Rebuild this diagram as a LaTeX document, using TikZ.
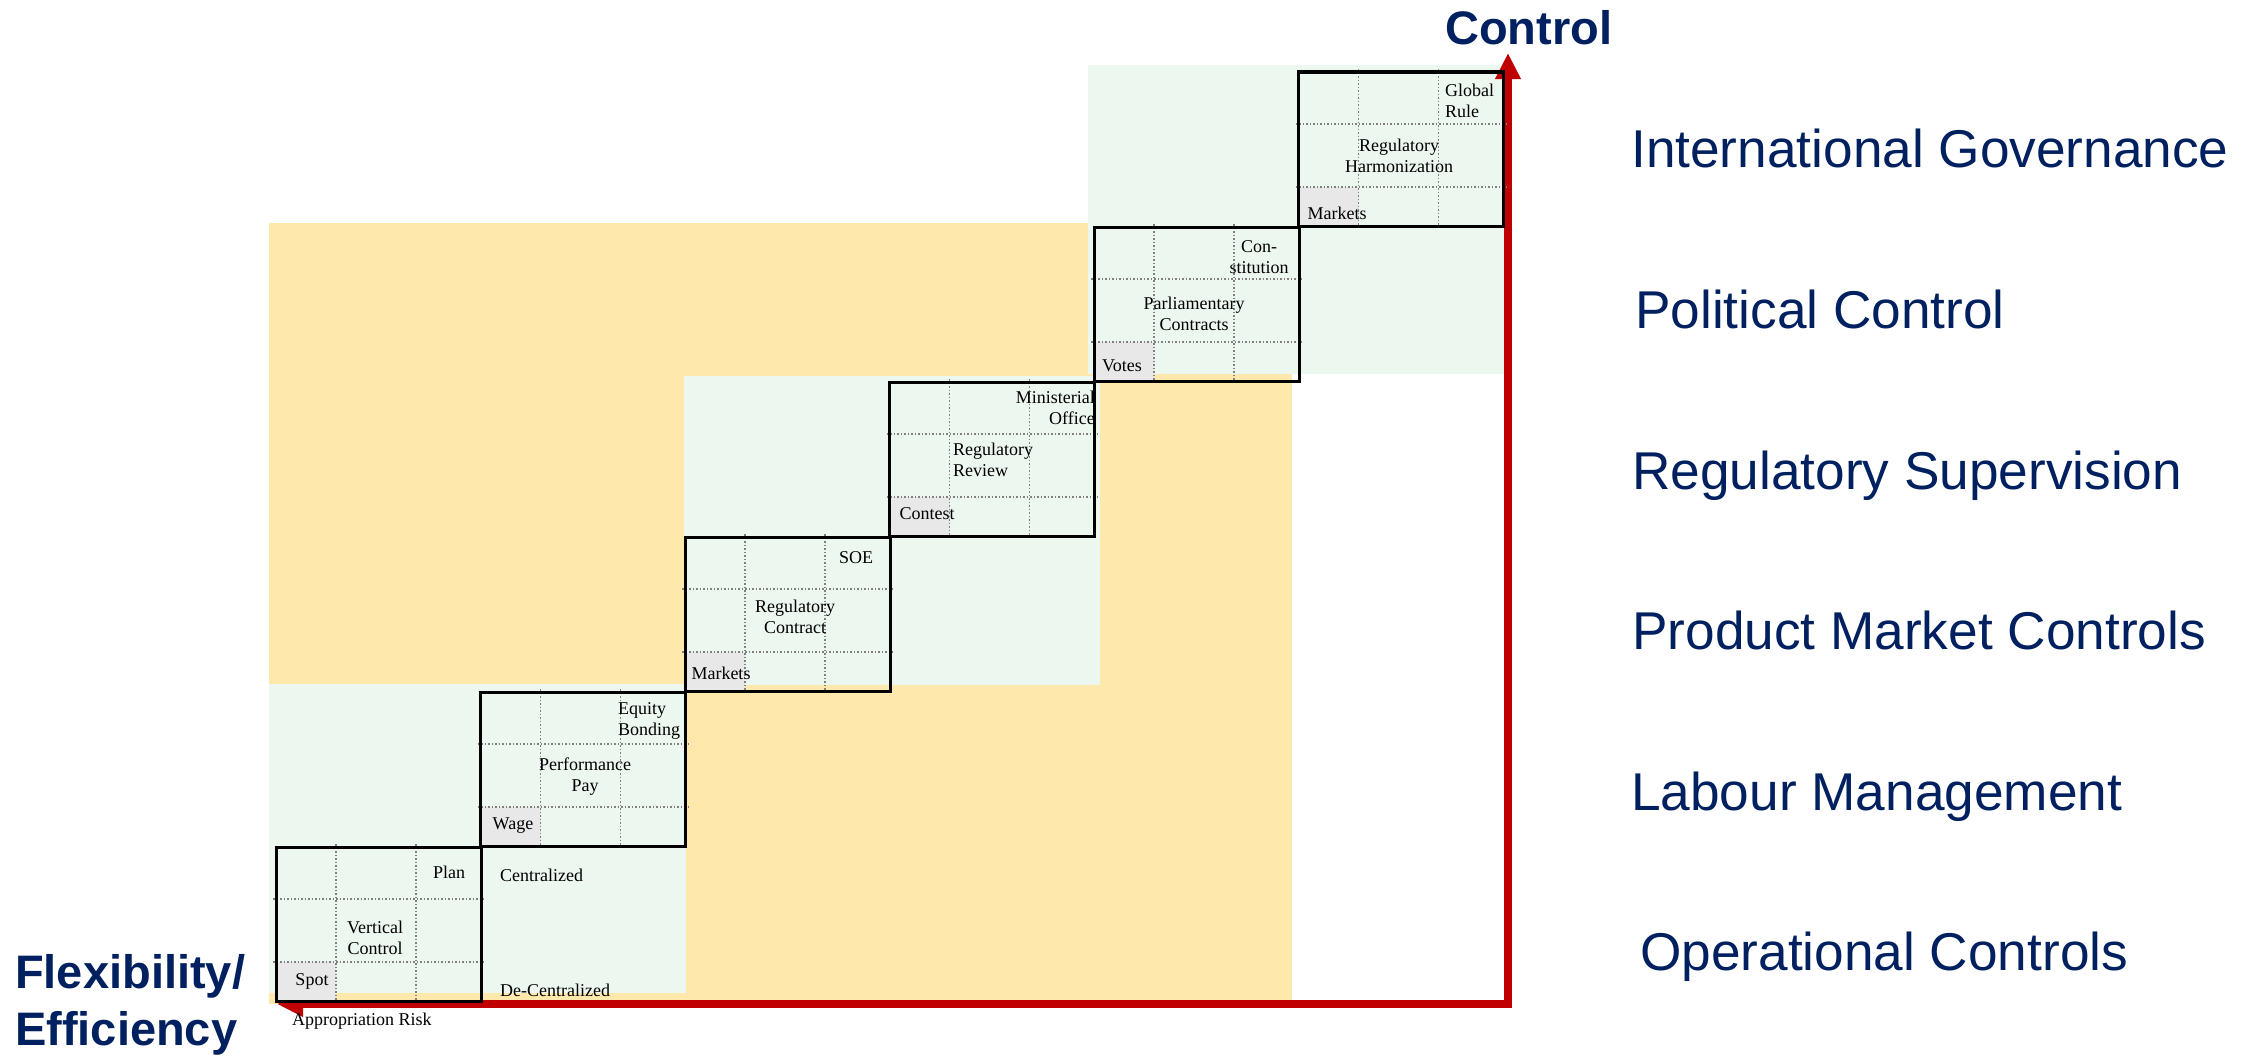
\documentclass[tikz,border=0pt]{standalone}
\usepackage{fontspec}
\setmainfont{Liberation Serif}
\newfontfamily\arialfont{Liberation Sans}
\usetikzlibrary{arrows.meta}
\definecolor{bgyellow}{RGB}{254,232,171}
\definecolor{bggreen}{RGB}{236,247,240}
\definecolor{cellgray}{RGB}{232,232,232}
\definecolor{navy}{RGB}{0,32,96}
\definecolor{axisred}{RGB}{192,0,0}
\definecolor{gridgray}{RGB}{128,128,128}
\begin{document}
\begin{tikzpicture}[x=1pt,y=-1pt,
  ctrlbox/.style={draw=black, line width=3pt, minimum width=205pt, minimum height=154pt, inner sep=0pt, outer sep=0pt},
  gridline/.style={draw=gridgray, line width=1.5pt, dash pattern=on 1.5pt off 2pt},
  axisline/.style={draw=axisred, line width=8pt, line join=miter,
    {Triangle[length=26pt,width=24pt]}-{Triangle[length=26pt,width=24pt]}},
  boxtxt/.style={font=\fontsize{18}{21}\selectfont, inner sep=0pt, text=black},
  levellabel/.style={font=\arialfont\fontsize{53.2}{60}\selectfont, text=navy, inner sep=0pt, anchor=base west},
  axislabel/.style={font=\arialfont\bfseries\fontsize{47}{52}\selectfont, text=navy, inner sep=0pt, anchor=base west}
]
\useasboundingbox (0,0) rectangle (2253,1057);
\fill[white] (0,0) rectangle (2253,1057);

% background zones
\fill[bgyellow] (269,223) rectangle (1292,1004);
\fill[bggreen] (269,684) rectangle (686,993);
\fill[bggreen] (684,376) rectangle (1100,685);
\fill[bggreen] (1088,65) rectangle (1506,374);

% axes
\coordinate (origin) at (1508,1004);
\coordinate (xtip) at (277,1004);
\coordinate (ytip) at (1508,53);
\draw[axisline] (xtip) -- (origin) -- (ytip);

% the six governance boxes with their 3x3 grids
\foreach \i in {0,...,5}{
  \pgfmathsetmacro\L{276+204.5*\i}
  \pgfmathsetmacro\T{847-155*\i}
  \fill[cellgray] (\L,\T+115) rectangle (\L+60,\T+154);
  \draw[gridline] (\L+60,\T-3) -- (\L+60,\T+157);
  \draw[gridline] (\L+140,\T-3) -- (\L+140,\T+157);
  \draw[gridline] (\L-3,\T+52) -- (\L+208,\T+52);
  \draw[gridline] (\L-3,\T+115) -- (\L+208,\T+115);
  \node[ctrlbox] (box\i) at (\L+102.5,\T+77) {};
}

% box texts
\node[boxtxt] (plan) at (449,872) {Plan};
\node[boxtxt, align=center] (vert) at (375,938) {Vertical\\Control};
\node[boxtxt] (spot) at (312,981) {Spot};
\node[boxtxt, anchor=west] (central) at (500,875) {Centralized};
\node[boxtxt, anchor=west] (decentral) at (500,990) {De-Centralized};
\node[boxtxt, anchor=west] (approp) at (292,1021) {Appropriation Risk};

\node[boxtxt, align=left, anchor=west] (equity) at (618,721) {Equity\\Bonding};
\node[boxtxt, align=center] (perf) at (585,777) {Performance\\Pay};
\node[boxtxt] (wage) at (513,826) {Wage};

\node[boxtxt] (soe) at (856,558) {SOE};
\node[boxtxt, align=center] (regcon) at (795,617) {Regulatory\\Contract};
\node[boxtxt] (markets1) at (721,673) {Markets};

\node[boxtxt, align=right, anchor=east] (minist) at (1095,408) {Ministerial\\Office};
\node[boxtxt, align=left, anchor=west] (regrev) at (953,460) {Regulatory\\Review};
\node[boxtxt] (contest) at (927,514) {Contest};

\node[boxtxt, align=center] (constit) at (1259,257) {Con-\\stitution};
\node[boxtxt, align=center] (parl) at (1194,314) {Parliamentary\\Contracts};
\node[boxtxt] (votes) at (1122,366) {Votes};

\node[boxtxt, align=left, anchor=west] (global) at (1445,101) {Global\\Rule};
\node[boxtxt, align=center] (harmon) at (1399,156) {Regulatory\\Harmonization};
\node[boxtxt] (markets2) at (1337,213) {Markets};

% axis titles
\node[axislabel] (ctrl) at (1445,45) {Control};
\node[axislabel] (flexa) at (15,988) {Flexibility/};
\node[axislabel] (flexb) at (15,1045) {Efficiency};

% level labels
\node[levellabel] (lvl6) at (1631,167) {International Governance};
\node[levellabel] (lvl5) at (1635,328) {Political Control};
\node[levellabel] (lvl4) at (1632,489) {Regulatory Supervision};
\node[levellabel] (lvl3) at (1632,649) {Product Market Controls};
\node[levellabel] (lvl2) at (1631,810) {Labour Management};
\node[levellabel] (lvl1) at (1640,970) {Operational Controls};
\end{tikzpicture}
\end{document}
